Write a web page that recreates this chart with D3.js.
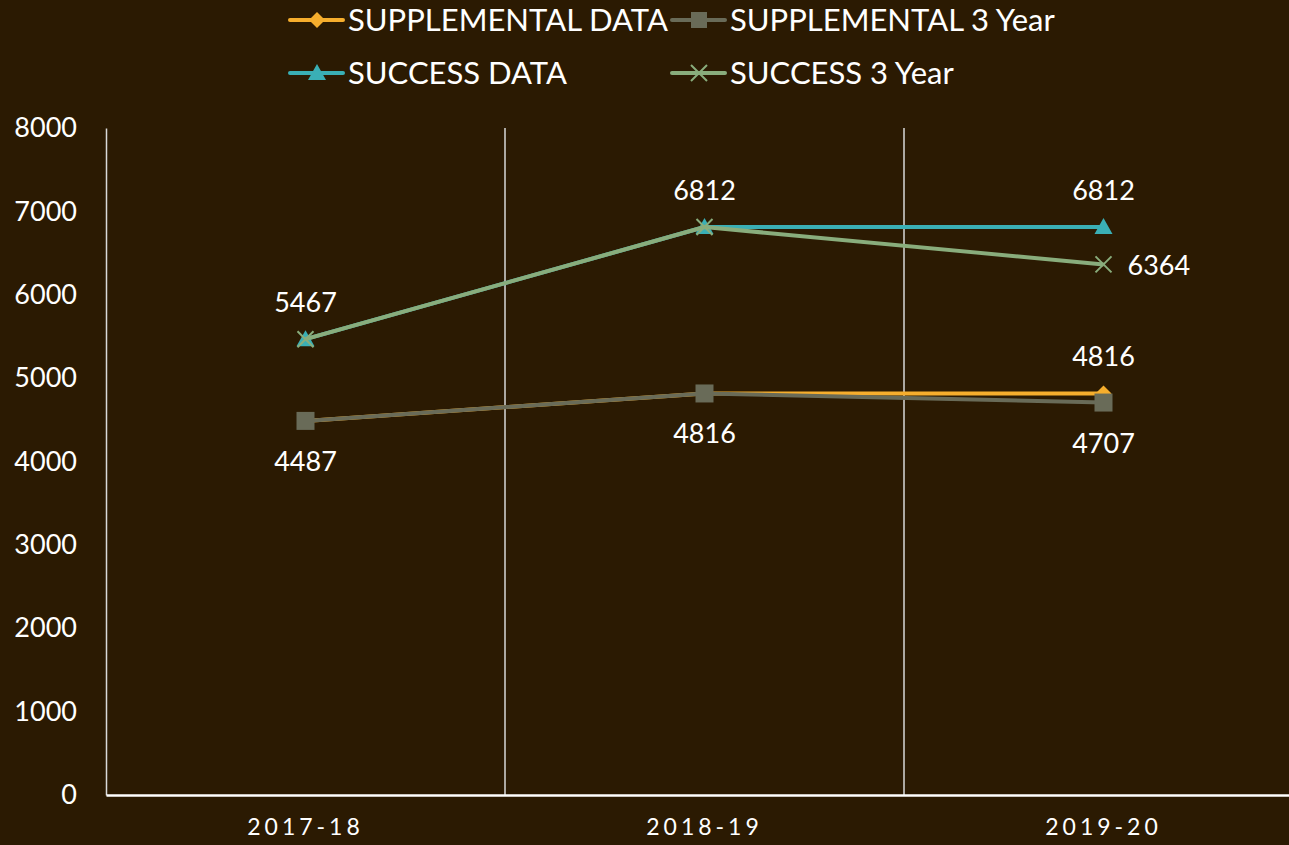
<!DOCTYPE html>
<html>
<head>
<meta charset="utf-8">
<script src="https://cdn.jsdelivr.net/npm/d3@7"></script>
<style>
    html, body { margin: 0; padding: 0; background: #2b1a02; overflow: hidden; }
    svg { display: block; font-family: "Lato", "Open Sans", sans-serif; }
</style>
</head>
<body>
<svg id="chart" width="1289" height="845"></svg>
<script>
const years = ["2017-18", "2018-19", "2019-20"];
const yTicks = [0, 1000, 2000, 3000, 4000, 5000, 6000, 7000, 8000];

const supplementalData = [4487, 4816, 4816];
const supplemental3Year = [4487, 4816, 4707];
const successData = [5467, 6812, 6812];
const success3Year = [5467, 6812, 6364];

// which point gets a label, and where it sits
const labelPlan = [
    { values: supplementalData, idx: [2], pos: "above" },
    { values: supplemental3Year, idx: [0, 1, 2], pos: "below" },
    { values: successData, idx: [1, 2], pos: "above" },
    { values: success3Year, idx: [0], pos: "above" },
    { values: success3Year, idx: [2], pos: "right" }
];

const series = [
    { name: "SUPPLEMENTAL DATA", values: supplementalData, color: "#f6ae2d", marker: "diamond" },
    { name: "SUPPLEMENTAL 3 Year", values: supplemental3Year, color: "#696b58", marker: "square" },
    { name: "SUCCESS DATA", values: successData, color: "#3aafb5", marker: "triangle" },
    { name: "SUCCESS 3 Year", values: success3Year, color: "#89ad7c", marker: "cross" }
];

const svg = d3.select("#chart");
const plot = { left: 106, right: 1303, top: 128, bottom: 795 };

const x = d3.scaleBand()
    .domain(years)
    .range([plot.left, plot.right]);

const y = d3.scaleLinear()
    .domain([0, 8000])
    .range([plot.bottom, plot.top]);

const cx = d => x(d) + x.bandwidth() / 2;

// vertical separators between categories
svg.append("g")
    .selectAll("line")
    .data(years.slice(1))
    .enter()
    .append("line")
    .attr("x1", d => x(d))
    .attr("x2", d => x(d))
    .attr("y1", plot.top)
    .attr("y2", plot.bottom)
    .attr("stroke", "#d9d9d9")
    .attr("stroke-width", 1.5);

// y axis
const yAxis = svg.append("g")
    .attr("transform", `translate(${plot.left},0)`)
    .call(d3.axisLeft(y).tickValues(yTicks).tickSize(0).tickPadding(29).tickFormat(d3.format("d")));
yAxis.select(".domain").attr("stroke", "#d9d9d9").attr("stroke-width", 1.5);
yAxis.selectAll("text")
    .attr("fill", "#ffffff")
    .attr("font-size", 27)
    .attr("font-family", "Lato, sans-serif")
    .attr("dy", "0.32em");

// x axis
const xAxis = svg.append("g")
    .attr("transform", `translate(0,${plot.bottom})`)
    .call(d3.axisBottom(x).tickSize(0).tickPadding(24));
xAxis.select(".domain").attr("stroke", "#ffffff").attr("stroke-width", 2.5);
xAxis.selectAll("text")
    .attr("fill", "#ffffff")
    .attr("font-size", 23)
    .attr("font-family", "Lato, sans-serif")
    .attr("letter-spacing", "4px");

const line = d3.line()
    .x((d, i) => cx(years[i]))
    .y(d => y(d));

function drawMarker(g, type, color, px, py, size) {
    if (type === "diamond") {
        g.append("path")
            .attr("d", `M${px},${py - 8}L${px + 8},${py}L${px},${py + 8}L${px - 8},${py}Z`)
            .attr("fill", color);
    } else if (type === "square") {
        g.append("rect")
            .attr("x", px - size).attr("y", py - size)
            .attr("width", size * 2).attr("height", size * 2)
            .attr("fill", color);
    } else if (type === "triangle") {
        g.append("path")
            .attr("d", `M${px},${py - 9}L${px + 9},${py + 7}L${px - 9},${py + 7}Z`)
            .attr("fill", color);
    } else if (type === "cross") {
        g.append("path")
            .attr("d", `M${px - 8},${py - 8}L${px + 8},${py + 8}M${px + 8},${py - 8}L${px - 8},${py + 8}`)
            .attr("stroke", color)
            .attr("stroke-width", 2);
    }
}

series.forEach(s => {
    const g = svg.append("g");
    g.append("path")
        .datum(s.values)
        .attr("d", line)
        .attr("fill", "none")
        .attr("stroke", s.color)
        .attr("stroke-width", 4)
        .attr("stroke-linejoin", "round");
    s.values.forEach((v, i) => drawMarker(g, s.marker, s.color, cx(years[i]), y(v), 9));
});

// data labels
const labels = svg.append("g")
    .attr("fill", "#ffffff")
    .attr("font-size", 27)
    .attr("font-family", "Lato, sans-serif");

labelPlan.forEach(p => {
    p.idx.forEach(i => {
        const px = cx(years[i]);
        const py = y(p.values[i]);
        const t = labels.append("text").text(p.values[i]);
        if (p.pos === "above") {
            t.attr("x", px).attr("y", py - 27).attr("text-anchor", "middle");
        } else if (p.pos === "below") {
            t.attr("x", px).attr("y", py + 50).attr("text-anchor", "middle");
        } else {
            t.attr("x", px + 24).attr("y", py + 11).attr("text-anchor", "start");
        }
    });
});

// legend
const legendItems = [
    { s: series[0], x: 290, y: 20 },
    { s: series[1], x: 672, y: 20 },
    { s: series[2], x: 290, y: 73 },
    { s: series[3], x: 672, y: 73 }
];

legendItems.forEach(item => {
    const g = svg.append("g");
    g.append("line")
        .attr("x1", item.x).attr("x2", item.x + 53)
        .attr("y1", item.y).attr("y2", item.y)
        .attr("stroke", item.s.color)
        .attr("stroke-width", 4)
        .attr("stroke-linecap", "round");
    drawMarker(g, item.s.marker, item.s.color, item.x + 27, item.y, 8);
    g.append("text")
        .attr("x", item.x + 58)
        .attr("y", item.y + 11)
        .attr("fill", "#ffffff")
        .attr("font-size", 31)
        .attr("font-family", "Lato, sans-serif")
        .text(item.s.name);
});
</script>
</body>
</html>
